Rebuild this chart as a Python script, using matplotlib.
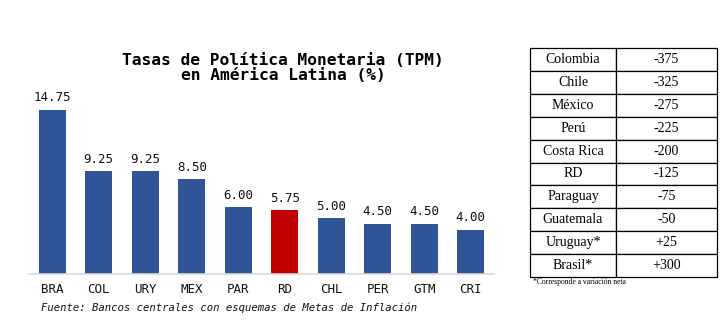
#!/usr/bin/env python3
"""
Tasas de politica monetaria en America Latina, con tabla de variaciones
"""

import matplotlib
matplotlib.use('Agg')
import matplotlib.pyplot as plt

# Datos del grafico de barras
paises = ['BRA', 'COL', 'URY', 'MEX', 'PAR', 'RD', 'CHL', 'PER', 'GTM', 'CRI']
tasas = [14.75, 9.25, 9.25, 8.50, 6.00, 5.75, 5.00, 4.50, 4.50, 4.00]

# Datos de la tabla de variaciones (puntos basicos)
tabla_paises = ['Colombia', 'Chile', 'México', 'Perú', 'Costa Rica', 'RD',
                'Paraguay', 'Guatemala', 'Uruguay*', 'Brasil*']
tabla_variacion = ['-375', '-325', '-275', '-225', '-200', '-125',
                   '-75', '-50', '+25', '+300']

AZUL = '#2F5597'
ROJO = '#C00000'
MONO = 'DejaVu Sans Mono'
SERIF = 'Liberation Serif'


def main():
    W, H = 721, 332
    fig = plt.figure(figsize=(W / 100, H / 100), dpi=100)

    # Eje de barras
    ax = fig.add_axes([29 / W, 58 / H, 465 / W, 184 / H])
    colores = [ROJO if p == 'RD' else AZUL for p in paises]
    barras = ax.bar(range(len(paises)), tasas, width=0.58, color=colores)
    ax.set_xlim(-0.5, len(paises) - 0.5)
    ax.set_ylim(0, 16.55)
    for b, v in zip(barras, tasas):
        ax.annotate(f'{v:.2f}', (b.get_x() + b.get_width() / 2, v),
                    xytext=(0, 4), textcoords='offset points',
                    ha='center', va='bottom', family=MONO, fontsize=9,
                    color='#111111')
    ax.set_xticks(range(len(paises)))
    ax.set_xticklabels(paises, family=MONO, fontsize=9, color='#111111')
    ax.tick_params(axis='x', length=0, pad=6.5)
    ax.set_yticks([])
    for s in ['top', 'right', 'left']:
        ax.spines[s].set_visible(False)
    ax.spines['bottom'].set_color('#D9D9D9')
    ax.spines['bottom'].set_linewidth(1.2)

    fig.text(283 / W, 1 - 68 / H,
             'Tasas de Política Monetaria (TPM)\nen América Latina (%)',
             ha='center', va='center', family=MONO, fontsize=11.7,
             fontweight='bold', linespacing=1.05)
    fig.text(41 / W, 1 - 308 / H,
             'Fuente: Bancos centrales con esquemas de Metas de Inflación',
             ha='left', va='center', family=MONO, fontsize=7.7,
             style='italic', color='#111111')

    # Tabla de variaciones
    tx0, tx1, ty0, ty1 = 530, 717, 48, 277
    axt = fig.add_axes([tx0 / W, 1 - ty1 / H, (tx1 - tx0) / W, (ty1 - ty0) / H])
    axt.axis('off')
    celdas = [[p, v] for p, v in zip(tabla_paises, tabla_variacion)]
    tabla = axt.table(cellText=celdas, cellLoc='center', bbox=[0, 0, 1, 1],
                      colWidths=[(616 - tx0), (tx1 - 616)])
    tabla.auto_set_font_size(False)
    for (r, c), celda in tabla.get_celld().items():
        celda.set_linewidth(0.9)
        celda.set_edgecolor('black')
        celda.get_text().set_fontsize(10)
        celda.get_text().set_family(SERIF)

    fig.text(533 / W, 1 - 282 / H, '*Corresponde a variación neta',
             ha='left', va='center', family=SERIF, fontsize=5.5)

    fig.savefig('out.png', dpi=100)
    plt.close(fig)


if __name__ == "__main__":
    main()
